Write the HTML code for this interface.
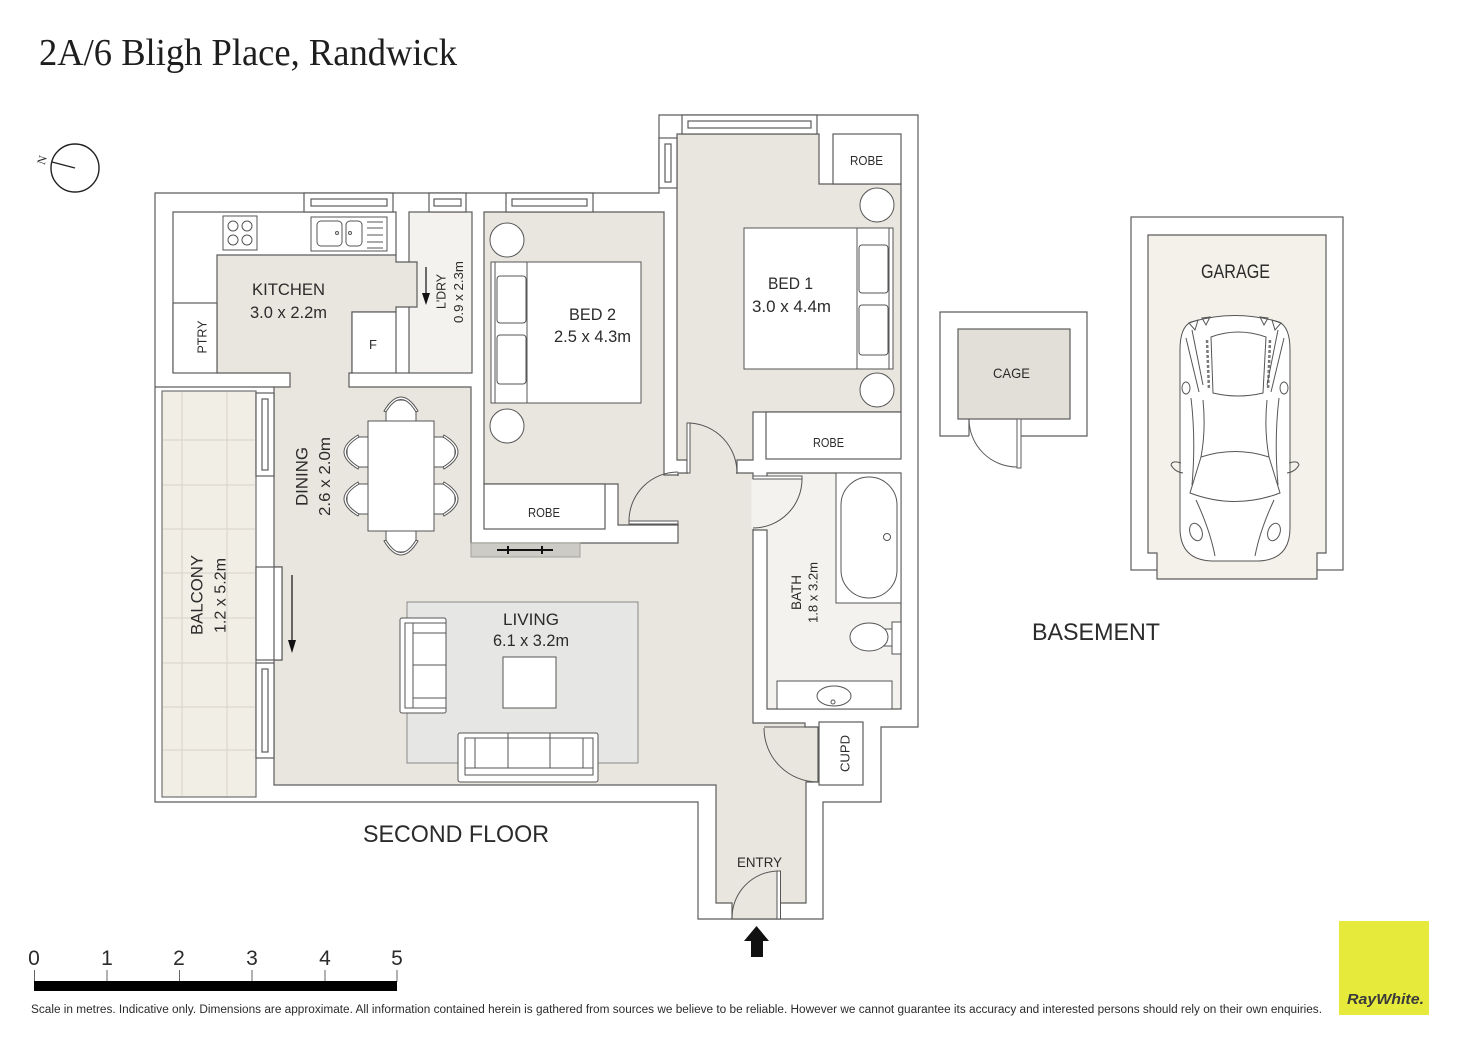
<!DOCTYPE html>
<html><head><meta charset="utf-8"><style>
html,body{margin:0;padding:0;background:#fff;}
svg{display:block;}
text{font-family:"Liberation Sans",sans-serif;fill:#2b2b2b;}
</style></head><body>
<svg width="1472" height="1041" viewBox="0 0 1472 1041" xmlns="http://www.w3.org/2000/svg">
<defs>
<g id="chair">
<path d="M-15,0 L-15,-8 Q-15,-21 0,-21 Q15,-21 15,-8 L15,0" fill="#fff"/>
<path d="M-17,-10 Q0,-38 17,-10 L15,-9 Q0,-34 -15,-9 Z" fill="#fff"/>
</g>
</defs>
<rect width="1472" height="1041" fill="#fff"/>

<!-- Title -->
<text x="39" y="65" font-family="Liberation Serif, serif" font-size="38" textLength="418" lengthAdjust="spacingAndGlyphs" style="font-family:'Liberation Serif',serif;fill:#1e1e1e">2A/6 Bligh Place, Randwick</text>

<!-- North -->
<g stroke="#222" stroke-width="1.4" fill="none">
<circle cx="75" cy="168" r="24"/>
<line x1="75" y1="168" x2="52" y2="162"/>
</g>
<text transform="translate(42,160) rotate(-72)" x="0" y="4" font-size="12" text-anchor="middle" style="font-family:'Liberation Serif',serif">N</text>

<g stroke="#5c5c5c" stroke-width="1.2">
<!-- outer -->
<polygon points="155,193 659,193 659,115 918,115 918,727 881,727 881,802 823,802 823,919 698,919 698,802 155,802" fill="#fff"/>
<!-- balcony -->
<rect x="162" y="391" width="94" height="406" fill="#f1eee5" stroke="#707070"/>
</g>
<g stroke="#d6d3ca" stroke-width="1">
<line x1="182" y1="392" x2="182" y2="796"/><line x1="227" y1="392" x2="227" y2="796"/>
<line x1="163" y1="440" x2="255" y2="440"/><line x1="163" y1="485" x2="255" y2="485"/>
<line x1="163" y1="529" x2="255" y2="529"/><line x1="163" y1="573" x2="255" y2="573"/>
<line x1="163" y1="618" x2="255" y2="618"/><line x1="163" y1="663" x2="255" y2="663"/>
<line x1="163" y1="707" x2="255" y2="707"/><line x1="163" y1="750" x2="255" y2="750"/>
</g>

<g stroke="#5c5c5c" stroke-width="1.2">
<!-- laundry & bath -->
<rect x="409" y="212" width="63" height="161" fill="#f3f2ef"/>
<polygon points="767,473 901,473 901,709 767,709 767,530 753,530 753,478 767,478" fill="#f3f2ef"/>
<!-- main floor -->
<polygon fill="#e9e6df" points="217,255 396,255 396,262 417,262 417,307 396,307 396,312 352,312 352,373 349,373 349,387 471,387 471,543 678,543 678,473 753,473 753,723 805,723 805,727 818,727 818,782 806,782 806,903 780,903 780,919 732,919 732,903 716,903 716,785 274,785 274,660 282,660 282,567 274,567 274,387 290,387 290,373 217,373"/>
<!-- bed1 -->
<polygon fill="#e9e6df" points="677,134 819,134 819,184 901,184 901,412 753,412 753,460 737,460 737,473 687,473 687,460 677,460"/>
<!-- bed2 -->
<polygon fill="#e9e6df" points="484,212 664,212 664,475 678,475 678,525 618,525 618,484 484,484"/>
</g>
<!-- opening covers -->
<rect x="688" y="461" width="48" height="14" fill="#e9e6df"/>
<rect x="670" y="476" width="12" height="48" fill="#e9e6df"/>
<rect x="751.5" y="479" width="15" height="50" fill="#f3f2ef"/>

<g stroke="#5c5c5c" stroke-width="1.2" fill="#fff">
<polyline points="173,373 173,212 396,212 396,255" fill="none"/>
<line x1="396" y1="373" x2="409" y2="373"/>
<line x1="155" y1="387" x2="274" y2="387"/>
<rect x="173" y="303" width="44" height="70"/>
<rect x="352" y="312" width="44" height="61"/>
<rect x="484" y="484" width="121" height="45"/>
<rect x="833" y="134" width="68" height="50"/>
<rect x="766" y="412" width="135" height="47"/>
<rect x="819" y="722" width="44" height="63"/>
<!-- windows -->
<rect x="304" y="193" width="89" height="19"/><rect x="311" y="199" width="76" height="7"/>
<rect x="429" y="193" width="37" height="19"/><rect x="434" y="199" width="27" height="7"/>
<rect x="506" y="193" width="87" height="19"/><rect x="512" y="199" width="75" height="7"/>
<rect x="682" y="115" width="135" height="19"/><rect x="688" y="121" width="123" height="7"/>
<rect x="659" y="138" width="18" height="50"/><rect x="665" y="144" width="6" height="38"/>
<rect x="256" y="393" width="18" height="83"/><rect x="262" y="399" width="6" height="71"/>
<rect x="256" y="663" width="18" height="95"/><rect x="262" y="669" width="6" height="83"/>
<rect x="256" y="567" width="26" height="93"/>
<line x1="274" y1="567" x2="274" y2="660"/>
</g>

<!-- kitchen fittings -->
<g stroke="#555" stroke-width="1" fill="#fff">
<rect x="223" y="216" width="34" height="34"/>
<circle cx="233" cy="226" r="5"/><circle cx="247" cy="226" r="5"/>
<circle cx="233" cy="240" r="5"/><circle cx="247" cy="240" r="5"/>
<rect x="311" y="217" width="76" height="34"/>
<rect x="317" y="221" width="25" height="25" rx="4"/>
<rect x="346" y="221" width="16" height="25" rx="4"/>
<circle cx="337" cy="233" r="1.5"/><circle cx="350" cy="233" r="1.5"/>
<line x1="367" y1="222" x2="383" y2="222"/><line x1="367" y1="228" x2="383" y2="228"/>
<line x1="367" y1="235" x2="383" y2="235"/><line x1="367" y1="242" x2="383" y2="242"/>
<line x1="367" y1="248" x2="383" y2="248"/>
</g>
<!-- arrows -->
<g stroke="#111" stroke-width="1.2">
<line x1="426" y1="267" x2="426" y2="296"/>
<line x1="292" y1="575" x2="292" y2="642"/>
</g>
<polygon points="422,293 430,293 426,305" fill="#111"/>
<polygon points="288,640 296,640 292,653" fill="#111"/>

<!-- heater -->
<rect x="471" y="543" width="109" height="14" fill="#cdcbc5" stroke="#a3a19c" stroke-width="1"/>
<g stroke="#111" stroke-width="2">
<line x1="497" y1="550" x2="553" y2="550"/>
<line x1="508" y1="546" x2="508" y2="554"/><line x1="542" y1="546" x2="542" y2="554"/>
</g>

<!-- rug & living furniture -->
<rect x="407" y="602" width="231" height="161" fill="#e6e6e5" stroke="#8a8a8a" stroke-width="1"/>
<g stroke="#555" stroke-width="1" fill="#fff">
<rect x="400" y="618" width="46" height="95" rx="2"/>
<rect x="405" y="623" width="41" height="85"/>
<line x1="413" y1="623" x2="413" y2="708"/>
<line x1="413" y1="633" x2="446" y2="633"/>
<line x1="413" y1="698" x2="446" y2="698"/>
<line x1="413" y1="665" x2="446" y2="665"/>
<rect x="503" y="657" width="53" height="51"/>
<rect x="458" y="733" width="140" height="49" rx="2"/>
<rect x="465" y="738" width="128" height="37"/>
<line x1="465" y1="768" x2="593" y2="768"/>
<line x1="475" y1="738" x2="475" y2="768"/>
<line x1="583" y1="738" x2="583" y2="768"/>
<line x1="508" y1="733" x2="508" y2="768"/>
<line x1="550" y1="733" x2="550" y2="768"/>
<!-- dining -->
<use href="#chair" transform="translate(401,421)"/>
<use href="#chair" transform="translate(401,531) rotate(180)"/>
<use href="#chair" transform="translate(368,452) rotate(-90)"/>
<use href="#chair" transform="translate(368,499) rotate(-90)"/>
<use href="#chair" transform="translate(434,452) rotate(90)"/>
<use href="#chair" transform="translate(434,499) rotate(90)"/>
<rect x="368" y="421" width="66" height="110"/>
<!-- bed 2 -->
<circle cx="507" cy="240" r="17"/><circle cx="507" cy="426" r="17"/>
<rect x="491" y="262" width="150" height="141"/>
<line x1="495" y1="262" x2="495" y2="403"/>
<line x1="527" y1="262" x2="527" y2="403"/>
<rect x="497" y="276" width="29" height="47" rx="3"/>
<rect x="497" y="335" width="29" height="49" rx="3"/>
<!-- bed 1 -->
<circle cx="877" cy="205" r="17"/><circle cx="877" cy="390" r="17"/>
<rect x="744" y="228" width="149" height="141"/>
<line x1="857" y1="228" x2="857" y2="369"/>
<line x1="889" y1="228" x2="889" y2="369"/>
<rect x="859" y="245" width="29" height="48" rx="3"/>
<rect x="859" y="305" width="29" height="50" rx="3"/>
<!-- bath -->
<rect x="836" y="473" width="65" height="130"/>
<rect x="841" y="477" width="56" height="121" rx="28"/>
<circle cx="887" cy="537" r="3.5"/>
<rect x="892" y="622" width="9" height="32"/>
<rect x="884" y="629" width="8" height="17"/>
<ellipse cx="869" cy="637" rx="19" ry="14"/>
<rect x="777" y="681" width="115" height="28"/>
<ellipse cx="834" cy="696" rx="17" ry="10"/>
<circle cx="833" cy="702" r="2"/>
</g>

<!-- doors -->
<g stroke="#555" stroke-width="1" fill="none">
<rect x="687" y="423" width="3" height="50" fill="#fff"/>
<path d="M690,423 A50,50 0 0 1 737,473"/>
<rect x="629" y="521" width="49" height="3" fill="#fff"/>
<path d="M629,521 A49,49 0 0 1 678,472"/>
<rect x="753" y="476" width="49" height="3" fill="#fff"/>
<path d="M802,479 A49,49 0 0 1 753,528"/>
<line x1="764" y1="727" x2="818" y2="727"/>
<path d="M764,728 A54,54 0 0 0 818,782"/>
<rect x="777" y="871" width="3.5" height="48" fill="#fff"/>
<path d="M777,871 A47,47 0 0 0 732,919"/>
</g>
<polygon points="756.5,926 769,941 763,941 763,957 751,957 751,941 744,941" fill="#111"/>

<!-- cage -->
<g stroke="#5c5c5c" stroke-width="1.2">
<polyline points="969,436 940,436 940,312 1087,312 1087,436 1021,436" fill="#fff"/>
<rect x="958" y="329" width="112" height="90" fill="#e2dfd8"/>
<line x1="969" y1="419" x2="969" y2="436"/>
<rect x="1017" y="419" width="4" height="49" fill="#fff" stroke-width="1"/>
<path d="M969,419 A48,48 0 0 0 1017,467" fill="none" stroke-width="1"/>
</g>

<!-- garage -->
<g stroke="#5c5c5c" stroke-width="1.2">
<rect x="1131" y="217" width="212" height="353" fill="#fff"/>
<polygon points="1148,235 1326,235 1326,553 1317,553 1317,579 1157,579 1157,553 1148,553" fill="#f3f1e9"/>
</g>
<g stroke="#555" stroke-width="1" fill="none">
<path d="M1191,322 Q1235,309 1279,322 Q1290,327 1290,350 L1290,528 Q1290,560 1258,561 L1212,561 Q1180,560 1180,528 L1180,350 Q1180,327 1191,322 Z" fill="#fff"/>
<path d="M1211,337 Q1238,327 1266,337 L1263,393 Q1238,399 1213,393 Z" fill="#fff"/>
<line x1="1207" y1="340" x2="1209" y2="390" stroke-dasharray="3,2" stroke-width="2.5" stroke="#777"/>
<line x1="1270" y1="340" x2="1268" y2="390" stroke-dasharray="3,2" stroke-width="2.5" stroke="#777"/>
<path d="M1192,330 L1203,385 M1186,338 L1199,392 M1278,330 L1267,385 M1284,338 L1271,392"/>
<path d="M1189,323 L1198,320 L1195,330 Z M1202,318 L1210,317 L1206,325 Z M1281,323 L1272,320 L1275,330 Z M1268,318 L1260,317 L1264,325 Z"/>
<ellipse cx="1186" cy="388" rx="4" ry="6"/><ellipse cx="1284" cy="388" rx="4" ry="6"/>
<path d="M1191,398 Q1196,440 1192,485 M1279,398 Q1274,440 1278,485 M1203,400 Q1206,430 1201,457 M1267,400 Q1264,430 1269,457"/>
<path d="M1201,457 Q1235,446 1269,457 L1280,493 Q1235,510 1190,493 Z"/>
<path d="M1196,500 Q1210,530 1215,556 M1274,500 Q1260,530 1255,556"/>
<ellipse cx="1196" cy="532" rx="6" ry="9" transform="rotate(-20 1196 532)"/>
<ellipse cx="1274" cy="532" rx="6" ry="9" transform="rotate(20 1274 532)"/>
<path d="M1181,463 Q1172,460 1171,465 Q1175,472 1183,473 M1289,463 Q1298,460 1299,465 Q1295,472 1287,473"/>
</g>

<!-- labels -->
<text x="288.5" y="295" font-size="17" text-anchor="middle" textLength="73" lengthAdjust="spacingAndGlyphs">KITCHEN</text>
<text x="288.5" y="318" font-size="17" text-anchor="middle" textLength="77" lengthAdjust="spacingAndGlyphs">3.0 x 2.2m</text>
<text transform="translate(202,337) rotate(-90)" x="0" y="4.5" font-size="13" text-anchor="middle" textLength="33" lengthAdjust="spacingAndGlyphs">PTRY</text>
<text x="373" y="349" font-size="13" text-anchor="middle">F</text>
<text transform="translate(441,291.5) rotate(-90)" x="0" y="4.5" font-size="13" text-anchor="middle" textLength="35" lengthAdjust="spacingAndGlyphs">L'DRY</text>
<text transform="translate(458.5,292) rotate(-90)" x="0" y="4.5" font-size="13" text-anchor="middle" textLength="62" lengthAdjust="spacingAndGlyphs">0.9 x 2.3m</text>
<text x="592.5" y="320" font-size="17" text-anchor="middle" textLength="47" lengthAdjust="spacingAndGlyphs">BED 2</text>
<text x="592.5" y="342" font-size="17" text-anchor="middle" textLength="77" lengthAdjust="spacingAndGlyphs">2.5 x 4.3m</text>
<text x="790.5" y="289" font-size="17" text-anchor="middle" textLength="45" lengthAdjust="spacingAndGlyphs">BED 1</text>
<text x="791.5" y="312" font-size="17" text-anchor="middle" textLength="79" lengthAdjust="spacingAndGlyphs">3.0 x 4.4m</text>
<text x="866.5" y="165" font-size="12.5" text-anchor="middle" textLength="33" lengthAdjust="spacingAndGlyphs">ROBE</text>
<text x="828.5" y="447" font-size="12.5" text-anchor="middle" textLength="31" lengthAdjust="spacingAndGlyphs">ROBE</text>
<text x="544" y="517" font-size="12.5" text-anchor="middle" textLength="32" lengthAdjust="spacingAndGlyphs">ROBE</text>
<text transform="translate(301.5,476.5) rotate(-90)" x="0" y="6" font-size="17" text-anchor="middle" textLength="59" lengthAdjust="spacingAndGlyphs">DINING</text>
<text transform="translate(325,476.5) rotate(-90)" x="0" y="5" font-size="16" text-anchor="middle" textLength="79" lengthAdjust="spacingAndGlyphs">2.6 x 2.0m</text>
<text transform="translate(196.5,595) rotate(-90)" x="0" y="6" font-size="17" text-anchor="middle" textLength="80" lengthAdjust="spacingAndGlyphs">BALCONY</text>
<text transform="translate(220.5,595.5) rotate(-90)" x="0" y="5" font-size="16" text-anchor="middle" textLength="75" lengthAdjust="spacingAndGlyphs">1.2 x 5.2m</text>
<text x="531" y="625" font-size="17" text-anchor="middle" textLength="56" lengthAdjust="spacingAndGlyphs">LIVING</text>
<text x="531" y="646" font-size="17" text-anchor="middle" textLength="76" lengthAdjust="spacingAndGlyphs">6.1 x 3.2m</text>
<text transform="translate(796,592.5) rotate(-90)" x="0" y="5" font-size="14" text-anchor="middle" textLength="35" lengthAdjust="spacingAndGlyphs">BATH</text>
<text transform="translate(813,592.5) rotate(-90)" x="0" y="4.5" font-size="13" text-anchor="middle" textLength="61" lengthAdjust="spacingAndGlyphs">1.8 x 3.2m</text>
<text transform="translate(845,753.5) rotate(-90)" x="0" y="4.5" font-size="13" text-anchor="middle" textLength="37" lengthAdjust="spacingAndGlyphs">CUPD</text>
<text x="759.5" y="867" font-size="14" text-anchor="middle" textLength="45" lengthAdjust="spacingAndGlyphs">ENTRY</text>
<text x="1011.5" y="378" font-size="14" text-anchor="middle" textLength="37" lengthAdjust="spacingAndGlyphs">CAGE</text>
<text x="1235.5" y="278" font-size="19" text-anchor="middle" textLength="69" lengthAdjust="spacingAndGlyphs">GARAGE</text>
<text x="456" y="842" font-size="24" text-anchor="middle" textLength="186" lengthAdjust="spacingAndGlyphs">SECOND FLOOR</text>
<text x="1096" y="640" font-size="24" text-anchor="middle" textLength="128" lengthAdjust="spacingAndGlyphs">BASEMENT</text>

<!-- scale -->
<g font-size="21" text-anchor="middle">
<text x="34" y="965">0</text><text x="107" y="965">1</text><text x="179" y="965">2</text>
<text x="252" y="965">3</text><text x="325" y="965">4</text><text x="397" y="965">5</text>
</g>
<g stroke="#666" stroke-width="1">
<line x1="34.5" y1="970" x2="34.5" y2="982"/><line x1="107" y1="970" x2="107" y2="982"/>
<line x1="179.5" y1="970" x2="179.5" y2="982"/><line x1="252" y1="970" x2="252" y2="982"/>
<line x1="325" y1="970" x2="325" y2="982"/><line x1="397" y1="970" x2="397" y2="982"/>
</g>
<rect x="34" y="981" width="363" height="10" fill="#000"/>
<text x="31" y="1013" font-size="11.5" textLength="1291" lengthAdjust="spacingAndGlyphs">Scale in metres. Indicative only. Dimensions are approximate. All information contained herein is gathered from sources we believe to be reliable. However we cannot guarantee its accuracy and interested persons should rely on their own enquiries.</text>

<!-- logo -->
<rect x="1339" y="921" width="90" height="94" fill="#e6ea3b"/>
<text x="1347" y="1004" font-size="15" font-weight="bold" font-style="italic" textLength="77" lengthAdjust="spacingAndGlyphs" style="fill:#3a3a3a">RayWhite.</text>
</svg>
</body></html>
